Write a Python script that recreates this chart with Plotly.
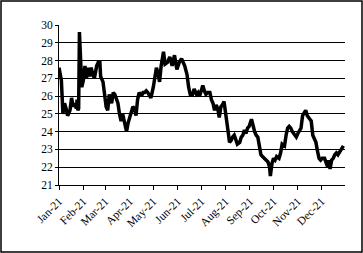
import plotly.graph_objects as go

dates = [
    "2021-01-01", "2021-01-04", "2021-01-06", "2021-01-08", "2021-01-10", "2021-01-12",
    "2021-01-15", "2021-01-17", "2021-01-19", "2021-01-21", "2021-01-23", "2021-01-24",
    "2021-01-25", "2021-01-26", "2021-01-27", "2021-01-30",
    "2021-02-01", "2021-02-03", "2021-02-05", "2021-02-07", "2021-02-09", "2021-02-11",
    "2021-02-13", "2021-02-15", "2021-02-18", "2021-02-20", "2021-02-22", "2021-02-23",
    "2021-02-26", "2021-02-28",
    "2021-03-02", "2021-03-04", "2021-03-06", "2021-03-09", "2021-03-11", "2021-03-13",
    "2021-03-15", "2021-03-17", "2021-03-19", "2021-03-21", "2021-03-23", "2021-03-26",
    "2021-03-28", "2021-03-30",
    "2021-04-01", "2021-04-03", "2021-04-05", "2021-04-07", "2021-04-09", "2021-04-11",
    "2021-04-13", "2021-04-16", "2021-04-18", "2021-04-20", "2021-04-22", "2021-04-24",
    "2021-04-26", "2021-04-28",
    "2021-05-01", "2021-05-03", "2021-05-05", "2021-05-07", "2021-05-09", "2021-05-11",
    "2021-05-14", "2021-05-16", "2021-05-19", "2021-05-22", "2021-05-25", "2021-05-28",
    "2021-05-31",
    "2021-06-03", "2021-06-06", "2021-06-10", "2021-06-13", "2021-06-15", "2021-06-17",
    "2021-06-20", "2021-06-22", "2021-06-25", "2021-06-27", "2021-06-29",
    "2021-07-01", "2021-07-03", "2021-07-05", "2021-07-07", "2021-07-09", "2021-07-12",
    "2021-07-14", "2021-07-16", "2021-07-18", "2021-07-20", "2021-07-22", "2021-07-24",
    "2021-07-26", "2021-07-28", "2021-07-30",
    "2021-08-02", "2021-08-04", "2021-08-06", "2021-08-08", "2021-08-10", "2021-08-12",
    "2021-08-16", "2021-08-19", "2021-08-21", "2021-08-23", "2021-08-25", "2021-08-27",
    "2021-08-29", "2021-08-31",
    "2021-09-03", "2021-09-05", "2021-09-07", "2021-09-09", "2021-09-11", "2021-09-13",
    "2021-09-15", "2021-09-17", "2021-09-19", "2021-09-22", "2021-09-24", "2021-09-26",
    "2021-09-27", "2021-09-29",
    "2021-10-01", "2021-10-03", "2021-10-05", "2021-10-08", "2021-10-10", "2021-10-12",
    "2021-10-15", "2021-10-17", "2021-10-19", "2021-10-21", "2021-10-23", "2021-10-25",
    "2021-10-27", "2021-10-30",
    "2021-11-01", "2021-11-03", "2021-11-05", "2021-11-07", "2021-11-09", "2021-11-11",
    "2021-11-13", "2021-11-15", "2021-11-18", "2021-11-20", "2021-11-22", "2021-11-24",
    "2021-11-26", "2021-11-28", "2021-11-30",
    "2021-12-02", "2021-12-05", "2021-12-07", "2021-12-09", "2021-12-10", "2021-12-12",
    "2021-12-14", "2021-12-16", "2021-12-18", "2021-12-20", "2021-12-22", "2021-12-25",
    "2021-12-27", "2021-12-29",
]

values = [
    27.6, 26.9, 25.0, 25.6, 25.3, 24.9,
    25.2, 25.9, 25.4, 25.6, 25.3, 25.8,
    25.2, 25.3, 29.6, 26.5,
    26.9, 27.7, 27.0, 27.6, 27.1, 27.6,
    27.2, 27.0, 27.7, 27.9, 27.9, 27.1,
    26.8, 26.2,
    25.4, 25.2, 26.1, 25.6, 26.2, 26.1,
    25.9, 25.6, 25.0, 24.6, 25.0, 24.5,
    24.0, 24.5,
    24.8, 25.2, 25.4, 25.3, 24.9, 25.8,
    26.2, 26.0, 26.2, 26.2, 26.3, 26.2,
    26.0, 25.9,
    26.5, 27.2, 27.6, 27.3, 26.8, 27.7,
    28.5, 27.8, 27.9, 28.2, 27.7, 28.3,
    27.5,
    27.9, 28.1, 27.7, 27.2, 26.5, 26.1,
    26.1, 26.4, 26.1, 26.2, 26.0,
    26.3, 26.6, 26.3, 26.1, 26.2, 26.2,
    25.8, 25.6, 25.2, 25.5, 25.3, 24.8,
    25.4, 25.5, 25.7,
    24.9, 24.1, 23.4, 23.5, 23.7, 23.8,
    23.3, 23.4, 23.7, 23.8, 24.1, 23.9,
    24.2, 24.3,
    24.7, 24.3, 24.0, 23.8, 23.7, 23.2,
    22.7, 22.6, 22.5, 22.4, 22.3, 22.0,
    21.5, 22.2,
    22.5, 22.4, 22.6, 22.5, 22.8, 23.3,
    23.2, 23.8, 24.2, 24.3, 24.2, 24.0,
    23.9, 23.7,
    23.9, 24.1, 24.2, 24.9, 25.1, 25.2,
    24.9, 24.8, 24.6, 23.8, 23.6, 23.4,
    22.9, 22.5, 22.4,
    22.5, 22.5, 22.3, 22.0, 22.4, 21.9,
    22.4, 22.5, 22.7, 22.8, 22.7, 22.9,
    23.0, 23.2,
]

y_ticks = [21, 22, 23, 24, 25, 26, 27, 28, 29, 30]

W, H = 363, 253
ML, MR, MT, MB = 59, 18, 25, 68

fig = go.Figure()
fig.add_trace(go.Scatter(
    x=dates, y=values, mode="lines",
    line=dict(color="black", width=3.5),
    showlegend=False, hoverinfo="skip",
))

font = dict(family="Liberation Serif, Times New Roman, serif", size=11.5, color="black")

fig.update_layout(
    width=W, height=H,
    margin=dict(l=ML, r=MR, t=MT, b=MB),
    paper_bgcolor="white", plot_bgcolor="white",
    font=font,
    xaxis=dict(
        type="date",
        range=["2021-01-01", "2021-12-31"],
        tick0="2021-01-01", dtick="M1",
        tickformat="%b-%y",
        tickangle=-45,
        ticks="outside", ticklen=4, tickcolor="black", tickwidth=1,
        showline=True, linecolor="black", linewidth=1,
        showgrid=False, zeroline=False,
        tickfont=font,
    ),
    yaxis=dict(
        range=[21, 30],
        tickvals=y_ticks,
        ticks="outside", ticklen=3, tickcolor="black", tickwidth=1,
        showline=True, linecolor="black", linewidth=1,
        showgrid=True, gridcolor="black", gridwidth=1,
        zeroline=False,
        tickfont=font,
    ),
)

pw = W - ML - MR
ph = H - MT - MB
fig.add_shape(
    type="rect", xref="paper", yref="paper",
    x0=-(ML - 1) / pw, x1=1 + (MR - 1) / pw,
    y0=-(MB - 1) / ph, y1=1 + (MT - 1) / ph,
    line=dict(color="black", width=1.5), fillcolor="rgba(0,0,0,0)",
    layer="above",
)

fig.write_html("out.html")
